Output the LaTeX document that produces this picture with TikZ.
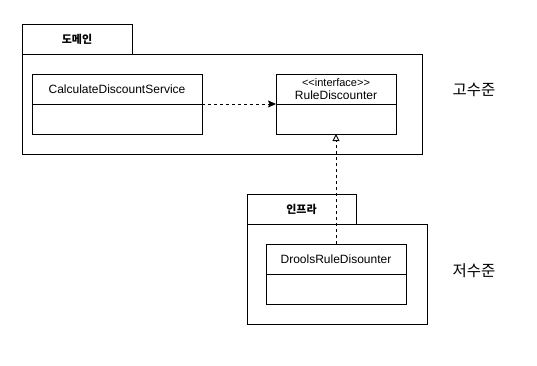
\documentclass[tikz,border=0pt]{standalone}
\usepackage{fontspec}
\setmainfont{Liberation Sans}
\newfontfamily\krfont{Noto Sans CJK KR}
\usepackage{tikz}
\usetikzlibrary{arrows.meta, positioning}
\tikzset{
  pkgtab/.style={draw=black, line width=0.9pt, font=\krfont\bfseries\fontsize{11}{12}\selectfont,
    minimum height=30pt, inner sep=0pt, outer sep=0pt},
  pkgbody/.style={draw=black, line width=0.9pt, minimum height=100pt, inner sep=0pt, outer sep=0pt},
  classhead/.style={draw=black, line width=0.9pt, minimum height=30pt, inner sep=1pt, outer sep=0pt,
    align=center, font=\fontsize{12}{13.5}\selectfont},
  classbody/.style={draw=black, line width=0.9pt, minimum height=30pt, inner sep=0pt, outer sep=0pt},
  levellabel/.style={font=\krfont\fontsize{15.5}{17}\selectfont},
  depend/.style={-{Stealth[length=8pt, width=7pt, inset=1.5pt]}, line width=0.9pt, dash pattern=on 3pt off 3pt},
  realize/.style={-{Triangle[open, length=7pt, width=7pt]}, line width=0.9pt, dash pattern=on 3pt off 3pt},
}
\begin{document}
\begin{tikzpicture}[x=1pt, y=1pt]
  \useasboundingbox[fill=white] (0,0) rectangle (537,-365);
  % domain package
  \node[pkgtab, minimum width=110pt, anchor=north west] (domaintab) at (22,-24) {도메인};
  \node[pkgbody, minimum width=400pt, anchor=north west] (domain) at (domaintab.south west) {};
  \node[classhead, minimum width=170pt, anchor=north west] (calchead) at (32,-74) {CalculateDiscountService};
  \node[classbody, minimum width=170pt, below=0pt of calchead] (calcbody) {};
  \node[classhead, minimum width=120pt, right=74pt of calchead] (rulehead)
    {{\fontsize{11}{12}\selectfont {<}{<}interface{>}{>}}\\RuleDiscounter};
  \node[classbody, minimum width=120pt, below=0pt of rulehead] (rulebody) {};
  \node[levellabel] (high) at (474,-90) {고수준};
  % infra package
  \node[pkgtab, minimum width=109pt, anchor=north west] (infratab) at (247,-194) {인프라};
  \node[pkgbody, minimum width=180pt, anchor=north west] (infra) at (infratab.south west) {};
  \node[classhead, minimum width=140pt, anchor=north west] (droolshead) at (266,-244) {DroolsRuleDisounter};
  \node[classbody, minimum width=140pt, below=0pt of droolshead] (droolsbody) {};
  \node[levellabel] (low) at (474,-271) {저수준};
  \draw[depend] (calchead.south east) -- (rulehead.south west);
  \draw[realize] (droolshead.north -| rulebody.south) -- (rulebody.south);
\end{tikzpicture}
\end{document}
